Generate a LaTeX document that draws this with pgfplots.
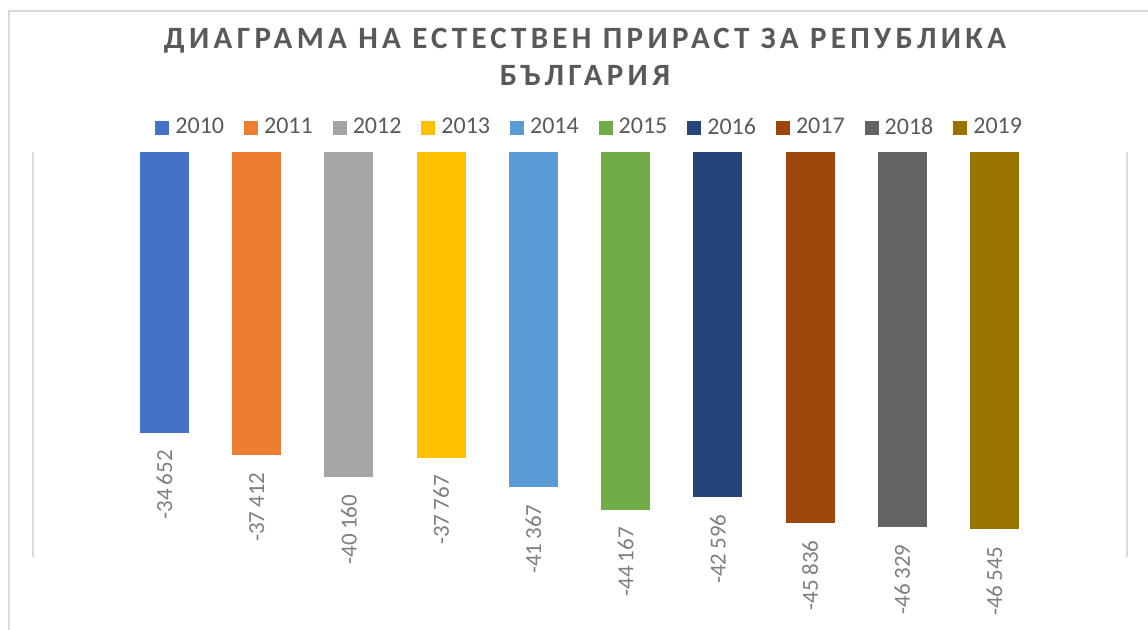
\documentclass[border=0pt]{standalone}
\usepackage{pgfplots}
\pgfplotsset{compat=1.18}
\usepackage{fontspec}
\setmainfont{Carlito}
\newfontfamily\titlefont[LetterSpace=14]{Carlito}
\definecolor{c0}{HTML}{4472C4}
\definecolor{c1}{HTML}{ED7D31}
\definecolor{c2}{HTML}{A5A5A5}
\definecolor{c3}{HTML}{FFC000}
\definecolor{c4}{HTML}{5B9BD5}
\definecolor{c5}{HTML}{70AD47}
\definecolor{c6}{HTML}{264478}
\definecolor{c7}{HTML}{9E480E}
\definecolor{c8}{HTML}{636363}
\definecolor{c9}{HTML}{997300}
\definecolor{txt}{HTML}{595959}
\definecolor{lbl}{HTML}{7F7F7F}
\definecolor{frame}{HTML}{D9D9D9}
\begin{document}
\begin{tikzpicture}
\useasboundingbox (0,0) rectangle (574pt,-314.5pt);
\draw[frame, line width=0.8pt] (4.5pt,-5.5pt) rectangle (600pt,-400pt);
\node[anchor=base, text=txt, font=\titlefont\bfseries\fontsize{15.5}{18}\selectfont, inner sep=0pt] at (292.5pt,-24pt) {ДИАГРАМА НА ЕСТЕСТВЕН ПРИРАСТ ЗА РЕПУБЛИКА};
\node[anchor=base, text=txt, font=\titlefont\bfseries\fontsize{15.5}{18}\selectfont, inner sep=0pt] at (292.5pt,-42.5pt) {БЪЛГАРИЯ};
\begin{axis}[
  at={(16.5pt,-76pt)}, anchor=north west,
  width=547pt, height=202.5pt, scale only axis,
  xmin=-1.426, xmax=10.437, ymin=-50000, ymax=0,
  xtick=\empty, ytick=\empty,
  axis line style={draw=none},
  clip=false,
  ybar, bar width=24.5pt,
  nodes near coords={\pgfmathprintnumber[assume math mode=true, fixed, precision=0, 1000 sep={\hspace{0.18em}}]{\pgfplotspointmeta}},
  every node near coord/.append style={yshift=-8.5pt, rotate=90, anchor=east, inner sep=0pt, text=lbl, font=\fontsize{11.5}{13}\selectfont},
  legend columns=10,
  legend style={at={(0.508,1.06)}, anchor=center, draw=none, fill=none, inner sep=0pt,
    font=\fontsize{12}{14}\selectfont, text=txt,
    nodes={inner sep=0pt},
    /tikz/every odd column/.append style={column sep=3pt},
    /tikz/every even column/.append style={column sep=10pt}},
  legend image code/.code={\fill[#1] (0pt,-3.5pt) rectangle (7pt,3.5pt);},
]
\addplot[fill=c0, draw=none, bar shift=0pt] coordinates {(0,-34652)};
\addplot[fill=c1, draw=none, bar shift=0pt] coordinates {(1,-37412)};
\addplot[fill=c2, draw=none, bar shift=0pt] coordinates {(2,-40160)};
\addplot[fill=c3, draw=none, bar shift=0pt] coordinates {(3,-37767)};
\addplot[fill=c4, draw=none, bar shift=0pt] coordinates {(4,-41367)};
\addplot[fill=c5, draw=none, bar shift=0pt] coordinates {(5,-44167)};
\addplot[fill=c6, draw=none, bar shift=0pt] coordinates {(6,-42596)};
\addplot[fill=c7, draw=none, bar shift=0pt] coordinates {(7,-45836)};
\addplot[fill=c8, draw=none, bar shift=0pt] coordinates {(8,-46329)};
\addplot[fill=c9, draw=none, bar shift=0pt] coordinates {(9,-46545)};
\legend{2010,2011,2012,2013,2014,2015,2016,2017,2018,2019}
\draw[frame, line width=0.8pt] (rel axis cs:0,0) -- (rel axis cs:0,1);
\draw[frame, line width=0.8pt] (rel axis cs:1,0) -- (rel axis cs:1,1);
\end{axis}
\end{tikzpicture}
\end{document}
